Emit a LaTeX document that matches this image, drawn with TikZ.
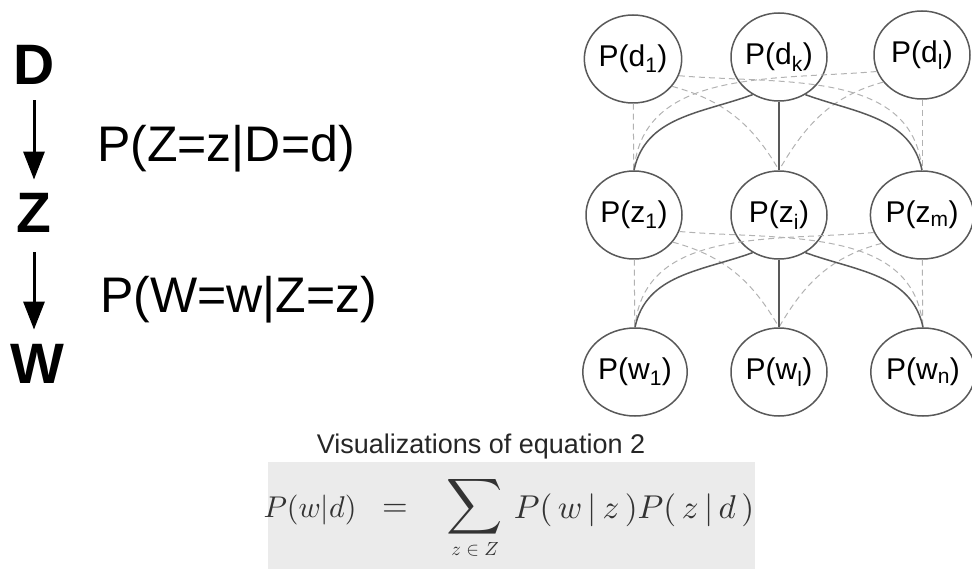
\documentclass[tikz,border=0pt]{standalone}
\usepackage{fontspec}
\setmainfont{Liberation Sans}
\usetikzlibrary{shapes.geometric,arrows.meta}
\tikzset{
  pnode/.style={ellipse, draw=black!65, line width=1.5pt, minimum width=96pt,
    minimum height=88pt, inner sep=0pt, font=\fontsize{30}{32}\selectfont},
  solidlink/.style={draw=black!65, line width=1.5pt},
  dashlink/.style={draw=black!30, line width=1pt, dash pattern=on 6pt off 4pt},
  bigletter/.style={font=\fontsize{57}{60}\selectfont\bfseries, inner sep=0pt, anchor=base},
  plabel/.style={font=\fontsize{50}{54}\selectfont, inner sep=0pt, anchor=base west},
  downarrow/.style={line width=3pt, -{Triangle[length=28pt,width=21pt]}},
  mathpart/.style={inner sep=0pt, text=black!80},
}
\begin{document}
\begin{tikzpicture}[x=1pt,y=-1pt]
\useasboundingbox (0,0) rectangle (972,569);

% left chain
\node[bigletter] (D) at (34,85) {D};
\node[bigletter] (Z) at (34,233) {Z};
\node[bigletter] (W) at (37,383) {W};
\draw[downarrow, shorten <=15pt, shorten >=14pt] (D.south) -- (Z.north);
\draw[downarrow, shorten <=19pt, shorten >=14pt] (Z.south) -- (Z.south |- W.north);
\node[plabel] (l1) at (97,162) {P(Z=z|D=d)};
\node[plabel] (l2) at (100,313) {P(W=w|Z=z)};

% right graph
\node[pnode] (d1) at (633,59) {P(d\textsubscript{1})};
\node[pnode] (dk) at (779,57) {P(d\textsubscript{k})};
\node[pnode] (dl) at (922,55) {P(d\textsubscript{l})};
\node[pnode] (z1) at (634,215) {P(z\textsubscript{1})};
\node[pnode] (zi) at (779,215) {P(z\textsubscript{i})};
\node[pnode] (zm) at (922,215) {P(z\textsubscript{m})};
\node[pnode] (w1) at (635,372) {P(w\textsubscript{1})};
\node[pnode] (wl) at (779,372) {P(w\textsubscript{l})};
\node[pnode] (wn) at (923,372) {P(w\textsubscript{n})};

% top -> middle
\draw[dashlink] (d1) -- (z1);
\draw[dashlink] (dl) -- (zm);
\draw[dashlink] (d1.-35) to[out=-15,in=120] (zi.north);
\draw[dashlink] (d1.-20) to[out=-5,in=95] (zm.north);
\draw[dashlink] (dl.215) to[out=195,in=60] (zi.north);
\draw[dashlink] (dl.200) to[out=185,in=85] (z1.north);
\draw[solidlink] (dk) -- (zi);
\draw[solidlink] (dk.235) to[out=200,in=78] (z1.north);
\draw[solidlink] (dk.305) to[out=-20,in=102] (zm.north);

% middle -> bottom
\draw[dashlink] (z1) -- (w1);
\draw[dashlink] (zm) -- (wn);
\draw[dashlink] (z1.-35) to[out=-15,in=120] (wl.north);
\draw[dashlink] (z1.-20) to[out=-5,in=95] (wn.north);
\draw[dashlink] (zm.215) to[out=195,in=60] (wl.north);
\draw[dashlink] (zm.200) to[out=185,in=85] (w1.north);
\draw[solidlink] (zi) -- (wl);
\draw[solidlink] (zi.235) to[out=200,in=78] (w1.north);
\draw[solidlink] (zi.305) to[out=-20,in=102] (wn.north);

% caption
\node[font=\fontsize{27}{30}\selectfont, inner sep=0pt, anchor=base, text=black!85] (cap) at (481,453) {Visualizations of equation 2};

% equation box
\fill[black!8] (268,462) rectangle (755,569);
\node[mathpart, scale=3.0] (lhs) at (310,510) {$P(w|d)$};
\node[mathpart, scale=3.3] (eq) at (395,510) {$=$};
\node[mathpart, scale=3.9] (sum) at (475,517) {\smash{$\displaystyle\sum$}};
\node[mathpart, scale=1.9] (sub) at (475,549) {$z\in Z$};
\node[mathpart, scale=3.3] (rhs) at (634,510) {$P(\,w\,|\,z\,)P(\,z\,|\,d\,)$};
\end{tikzpicture}
\end{document}
